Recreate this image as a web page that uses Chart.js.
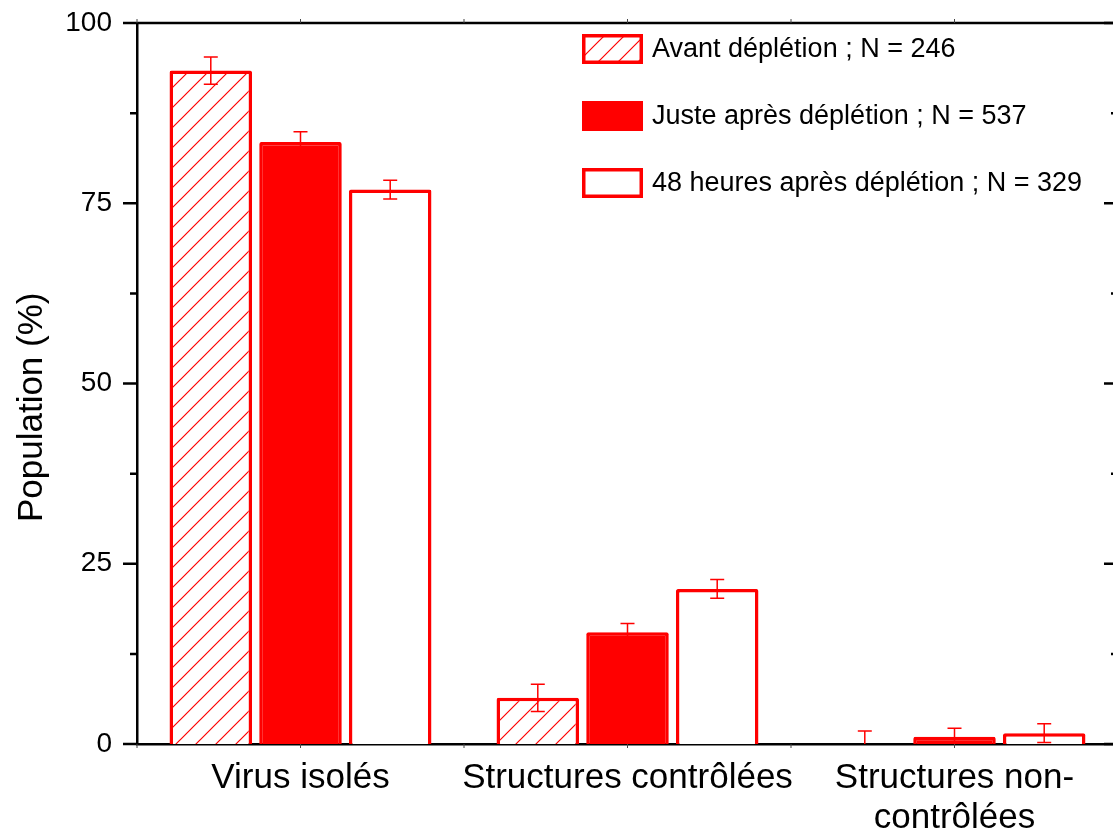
<!DOCTYPE html>
<html>
<head>
<meta charset="utf-8">
<script src="https://cdn.jsdelivr.net/npm/chart.js@4.4.0/dist/chart.umd.min.js"></script>
<style>
  html, body { margin: 0; padding: 0; background: #fff; overflow: hidden; }
  #wrap { width: 1125px; height: 828px; }
</style>
</head>
<body>
<div id="wrap"><canvas id="myChart" width="1125" height="828"></canvas></div>
<script>
var categories = ['Virus isolés', 'Structures contrôlées', ['Structures non-', 'contrôlées']];
var seriesNames = ['Avant déplétion ; N = 246', 'Juste après déplétion ; N = 537', '48 heures après déplétion ; N = 329'];
var avantValues = [93.4, 6.4, 0];
var avantErrors = [1.9, 1.9, 1.8];
var justeValues = [83.5, 15.5, 1.0];
var justeErrors = [1.4, 1.2, 1.2];
var h48Values = [76.9, 21.5, 1.5];
var h48Errors = [1.3, 1.3, 1.3];
var yTicks = [0, 25, 50, 75, 100];
var yTitle = 'Population (%)';

var red = 'rgb(255, 0, 0)';
Chart.defaults.font.family = '"Liberation Sans", Arial, sans-serif';
Chart.defaults.color = '#000';

// diagonal "/" hatch used for the first series
function makeHatch(ctx) {
  var c = document.createElement('canvas');
  c.width = 20; c.height = 20;
  var p = c.getContext('2d');
  p.fillStyle = '#fff';
  p.fillRect(0, 0, 20, 20);
  p.strokeStyle = red;
  p.lineWidth = 1.2;
  p.beginPath();
  p.moveTo(-2, 22); p.lineTo(22, -2);
  p.moveTo(-2, 2); p.lineTo(2, -2);
  p.moveTo(18, 22); p.lineTo(22, 18);
  p.stroke();
  return ctx.createPattern(c, 'repeat');
}

var errorBars = {
  id: 'errorBars',
  afterDatasetsDraw: function(chart) {
    var ctx = chart.ctx, y = chart.scales.y;
    ctx.save();
    ctx.strokeStyle = red;
    ctx.lineWidth = 1.5;
    chart.data.datasets.forEach(function(ds, i) {
      chart.getDatasetMeta(i).data.forEach(function(bar, j) {
        var v = ds.data[j], e = ds.errors[j];
        var top = y.getPixelForValue(v + e);
        var bot = y.getPixelForValue(Math.max(0, v - e));
        ctx.beginPath();
        ctx.moveTo(bar.x, top); ctx.lineTo(bar.x, bot);
        ctx.moveTo(bar.x - 7, top); ctx.lineTo(bar.x + 7, top);
        if (v - e > 0) { ctx.moveTo(bar.x - 7, bot); ctx.lineTo(bar.x + 7, bot); }
        ctx.stroke();
      });
    });
    ctx.restore();
  }
};

// box frame: top and right axis lines, tick marks on all four sides, y title
var frame = {
  id: 'frame',
  afterDraw: function(chart) {
    var ctx = chart.ctx, a = chart.chartArea, y = chart.scales.y, x = chart.scales.x;
    ctx.save();
    ctx.strokeStyle = '#000';
    ctx.lineWidth = 2.5;
    ctx.beginPath();
    ctx.moveTo(a.left, a.top); ctx.lineTo(a.right, a.top);
    ctx.moveTo(a.right, a.top); ctx.lineTo(a.right, a.bottom);
    ctx.stroke();
    for (var v = 0; v <= 100; v += 12.5) {
      var py = y.getPixelForValue(v);
      var len = yTicks.indexOf(v) >= 0 ? 14 : 7;
      ctx.beginPath();
      ctx.moveTo(a.left - len, py); ctx.lineTo(a.left, py);
      ctx.moveTo(a.right - len, py); ctx.lineTo(a.right, py);
      ctx.stroke();
    }
    ctx.lineWidth = 1;
    ctx.strokeStyle = '#444';
    for (var k = 0; k <= categories.length * 2; k++) {
      var px = x.getPixelForValue(k / 2 - 0.5);
      ctx.beginPath();
      ctx.moveTo(px, a.bottom); ctx.lineTo(px, a.bottom + 4);
      ctx.moveTo(px, a.top); ctx.lineTo(px, a.top - 4);
      ctx.stroke();
    }
    // rotated axis title, sitting a little below the axis middle
    ctx.translate(32, y.getPixelForValue(46.7));
    ctx.rotate(-Math.PI / 2);
    ctx.font = '35px "Liberation Sans", Arial, sans-serif';
    ctx.fillStyle = '#000';
    ctx.textAlign = 'center';
    ctx.textBaseline = 'middle';
    ctx.fillText(yTitle, 0, 0);
    ctx.restore();
  }
};

var legendBox = {
  id: 'legendBox',
  afterDraw: function(chart) {
    var ctx = chart.ctx, a = chart.chartArea;
    var x0 = a.left + 445, y0 = a.top + 11, rowH = 67;
    ctx.save();
    ctx.font = '27px "Liberation Sans", Arial, sans-serif';
    ctx.textBaseline = 'middle';
    chart.data.datasets.forEach(function(ds, i) {
      var by = y0 + i * rowH;
      ctx.fillStyle = ds.backgroundColor;
      ctx.fillRect(x0, by, 61, 30);
      ctx.strokeStyle = ds.borderColor;
      ctx.lineWidth = 3.5;
      ctx.strokeRect(x0 + 1.75, by + 1.75, 57.5, 26.5);
      ctx.fillStyle = '#000';
      ctx.fillText(ds.label, x0 + 70, by + 16);
    });
    ctx.restore();
  }
};

var ctxChart = document.getElementById('myChart').getContext('2d');
var hatch = makeHatch(ctxChart);

var chart = new Chart(ctxChart, {
  type: 'bar',
  data: {
    labels: categories,
    datasets: [{
      label: seriesNames[0],
      data: avantValues,
      errors: avantErrors,
      backgroundColor: hatch,
      borderColor: red,
      borderWidth: 3.5,
      borderRadius: 2
    }, {
      label: seriesNames[1],
      data: justeValues,
      errors: justeErrors,
      backgroundColor: red,
      borderColor: red,
      borderWidth: 3.5,
      borderRadius: 2
    }, {
      label: seriesNames[2],
      data: h48Values,
      errors: h48Errors,
      backgroundColor: '#fff',
      borderColor: red,
      borderWidth: 3.5,
      borderRadius: 2
    }]
  },
  options: {
    responsive: false,
    animation: false,
    categoryPercentage: 0.823,
    barPercentage: 0.92,
    layout: { padding: { left: 0, right: 7, top: 23, bottom: 0 } },
    plugins: {
      legend: { display: false },
      tooltip: { enabled: false }
    },
    scales: {
      x: {
        ticks: { color: '#000', font: { size: 35, lineHeight: 1.15 }, padding: 14, maxRotation: 0, autoSkip: false },
        grid: { display: false, drawTicks: false },
        border: { display: true, color: '#000', width: 2.5 },
        afterFit: function(s) { s.height = 84; }
      },
      y: {
        min: 0,
        max: 100,
        ticks: {
          stepSize: 12.5,
          padding: 25,
          color: '#000',
          font: { size: 28 },
          callback: function(v) { return yTicks.indexOf(v) >= 0 ? v : ''; }
        },
        grid: { display: false, drawTicks: false },
        border: { display: true, color: '#000', width: 2.5 },
        afterFit: function(s) {
          s.width = 137;
          s.paddingTop = 0;
          s.paddingBottom = 0;
        }
      }
    }
  },
  plugins: [errorBars, frame, legendBox]
});
</script>
</body>
</html>
